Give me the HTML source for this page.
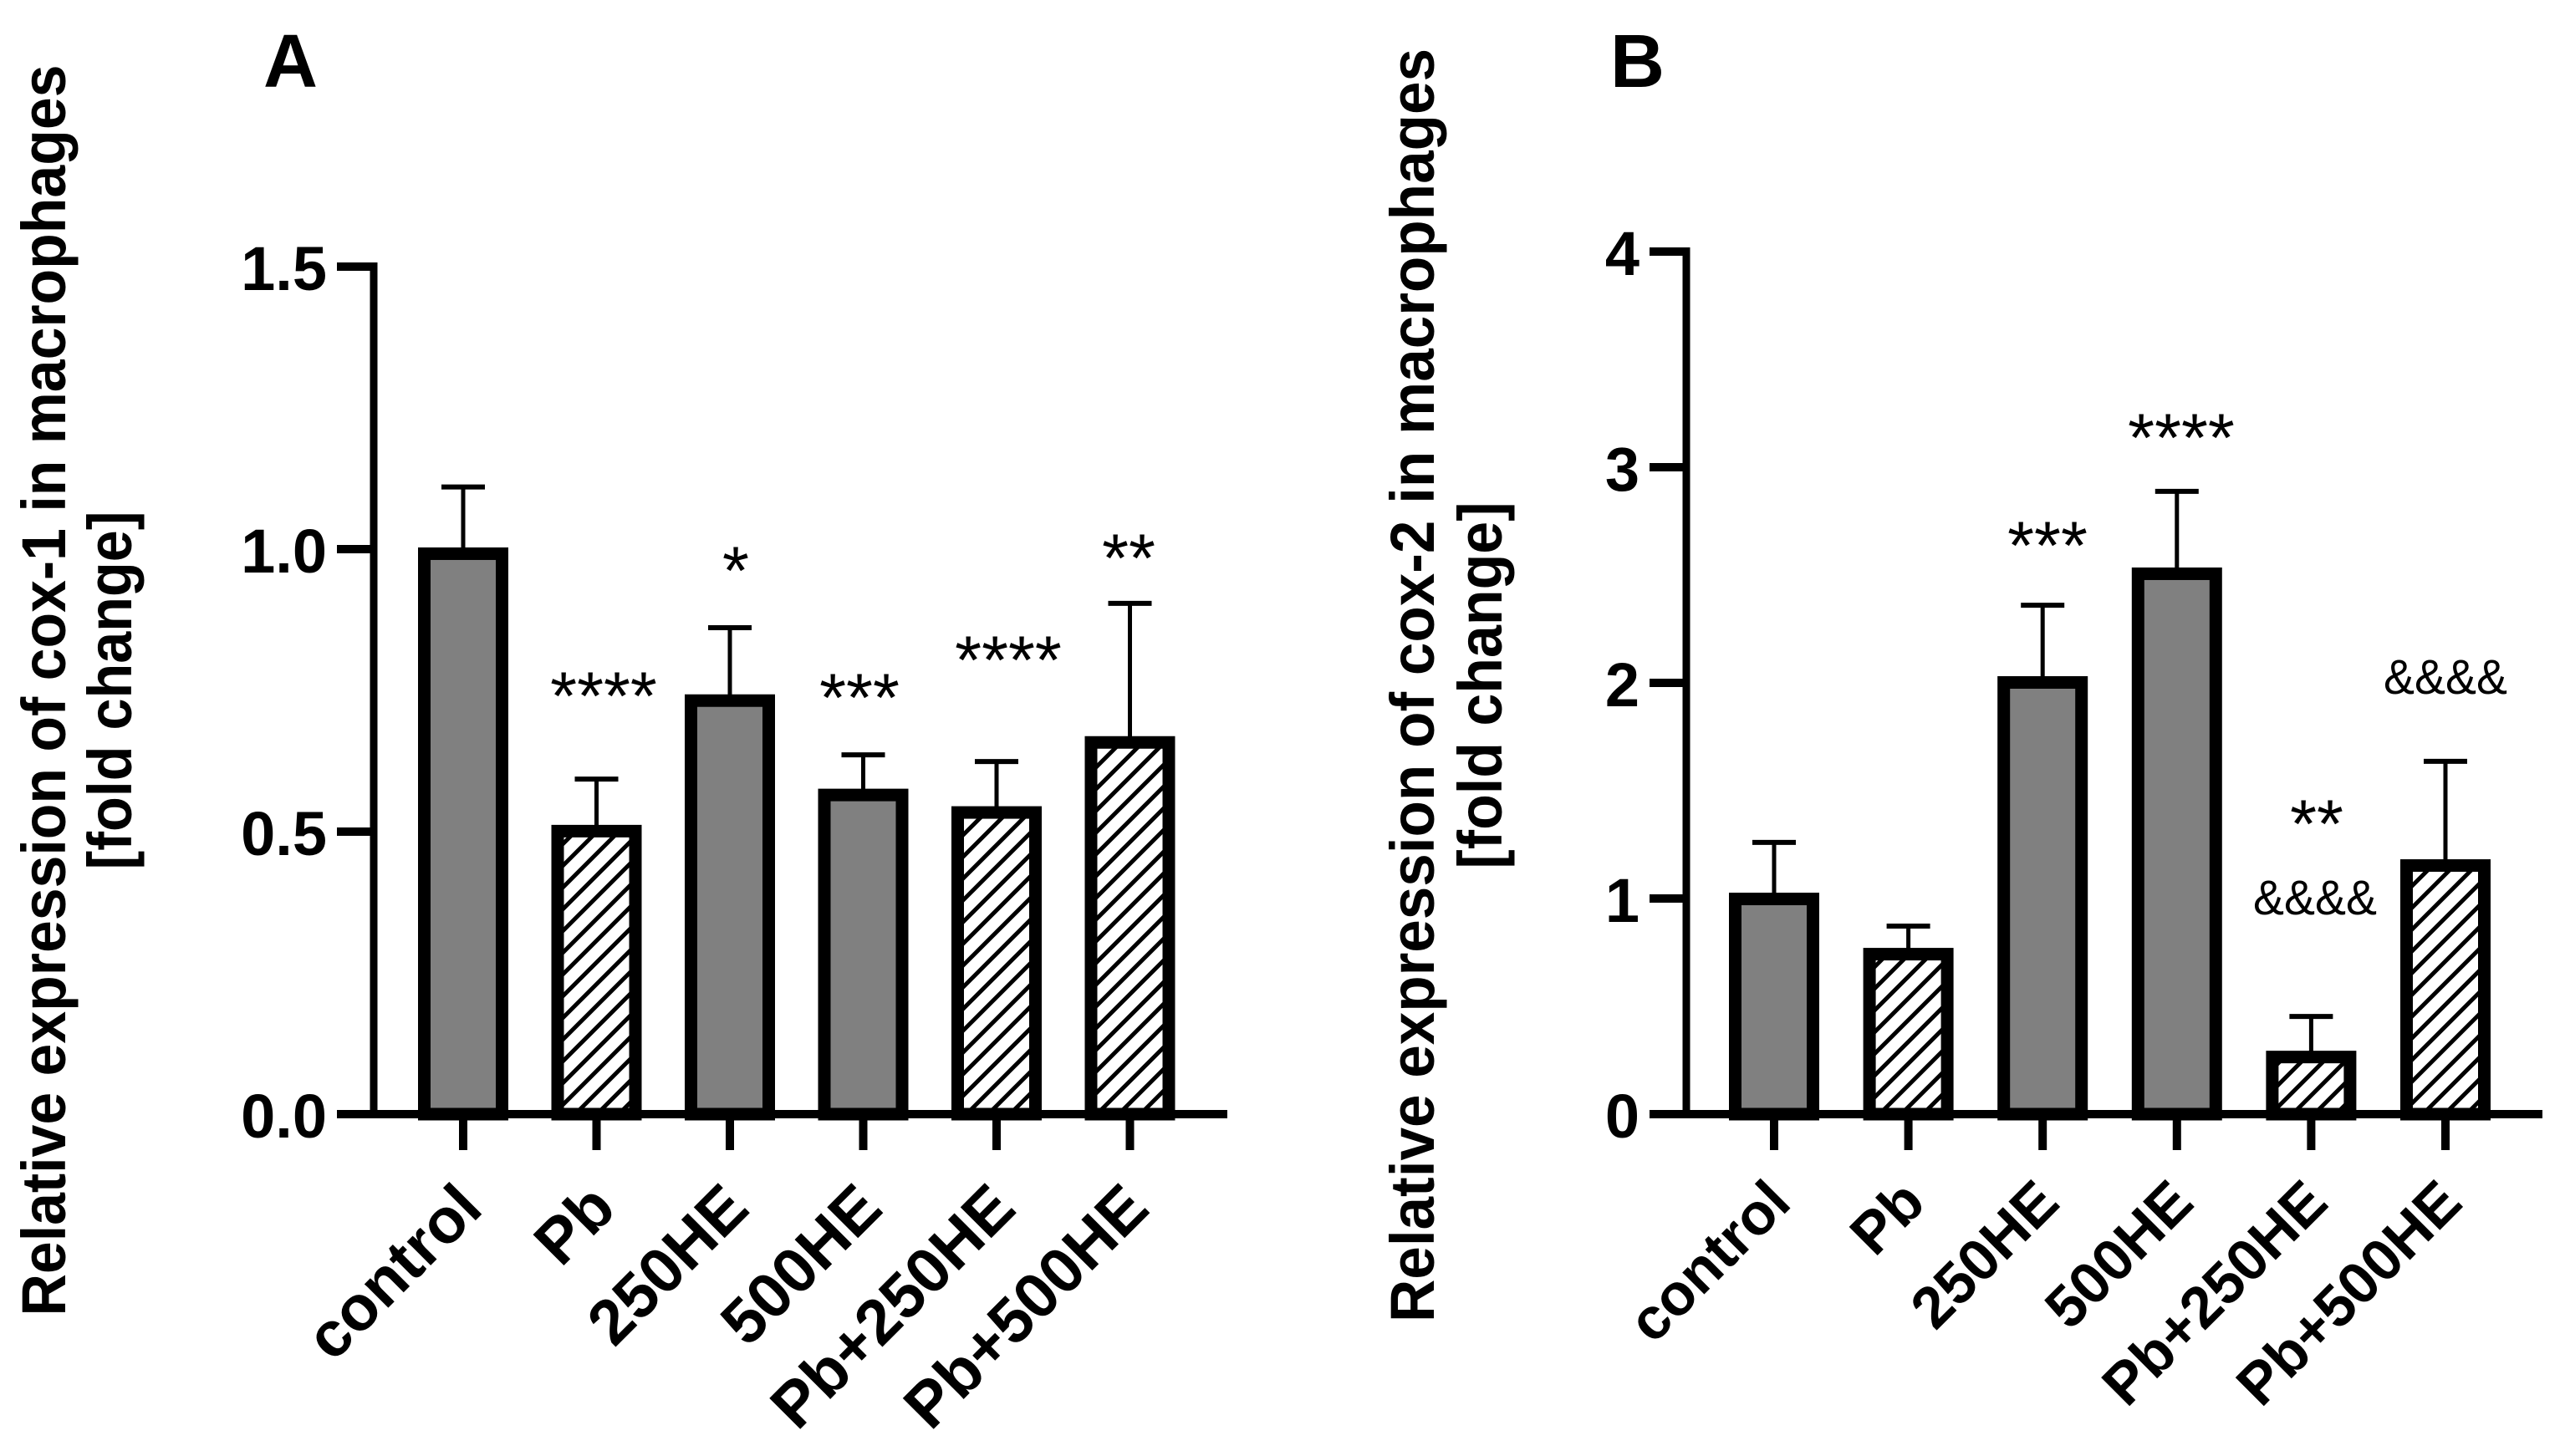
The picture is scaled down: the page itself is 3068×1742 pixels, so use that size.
<!DOCTYPE html>
<html lang="en">
<head>
<meta charset="utf-8">
<title>Relative expression of cox-1 and cox-2 in macrophages</title>
<style>
  html, body { margin: 0; padding: 0; background: #ffffff; }
  svg { display: block; }
  text { font-family: "Liberation Sans", Arial, sans-serif; fill: #000000; }
  .title { font-weight: bold; font-size: 74px; }
  .panel { font-weight: bold; font-size: 90px; }
  .stars { font-size: 82px; text-anchor: middle; }
  .amps { font-size: 58px; text-anchor: middle; }
</style>
</head>
<body>
<svg id="figure" xmlns="http://www.w3.org/2000/svg" width="3068" height="1742" viewBox="0 0 3068 1742">
  <defs>
    <pattern id="hatch" patternUnits="userSpaceOnUse" width="26" height="26" patternTransform="translate(19 0)">
      <rect width="26" height="26" fill="#ffffff"/>
      <path d="M-6.5 6.5 L6.5 -6.5 M0 26 L26 0 M19.5 32.5 L32.5 19.5" stroke="#000000" stroke-width="5" fill="none"/>
    </pattern>
  </defs>
  <rect width="3068" height="1742" fill="#ffffff"/>

  <text class="panel" x="315" y="104">A</text>
  <text class="panel" x="1926" y="104">B</text>

  <text class="title" transform="translate(78 826) rotate(-90)" text-anchor="middle" textLength="1497" lengthAdjust="spacingAndGlyphs">Relative expression of cox-1 in macrophages</text>
  <text class="title" transform="translate(157 826) rotate(-90)" text-anchor="middle" textLength="429" lengthAdjust="spacingAndGlyphs">[fold change]</text>
  <text class="title" transform="translate(1715 820) rotate(-90)" text-anchor="middle" textLength="1524" lengthAdjust="spacingAndGlyphs">Relative expression of cox-2 in macrophages</text>
  <text class="title" transform="translate(1796 820) rotate(-90)" text-anchor="middle" textLength="439" lengthAdjust="spacingAndGlyphs">[fold change]</text>

  <g id="panel-a"></g>
  <g id="panel-b"></g>

  <g>
    <text class="stars" x="722" y="861">****</text>
    <text class="stars" x="880" y="711">*</text>
    <text class="stars" x="1028" y="863">***</text>
    <text class="stars" x="1206" y="818">****</text>
    <text class="stars" x="1350" y="696">**</text>
  </g>
  <g>
    <text class="stars" x="2449" y="681">***</text>
    <text class="stars" x="2609" y="552">****</text>
    <text class="stars" x="2771" y="1014">**</text>
    <text class="amps" x="2769" y="1094" textLength="148" lengthAdjust="spacingAndGlyphs">&amp;&amp;&amp;&amp;</text>
    <text class="amps" x="2925" y="830" textLength="148" lengthAdjust="spacingAndGlyphs">&amp;&amp;&amp;&amp;</text>
  </g>
</svg>

<script>
const categories = ['control', 'Pb', '250HE', '500HE', 'Pb+250HE', 'Pb+500HE'];
const hatched = [false, true, false, false, true, true];
const cox1Values = [1.003, 0.512, 0.743, 0.576, 0.545, 0.669];
const cox1ErrorTops = [1.11, 0.593, 0.861, 0.636, 0.624, 0.904];
const cox1Ticks = ['0.0', '0.5', '1.0', '1.5'];
const cox2Values = [1.027, 0.771, 2.031, 2.535, 0.294, 1.182];
const cox2ErrorTops = [1.26, 0.872, 2.36, 2.888, 0.453, 1.636];
const cox2Ticks = ['0', '1', '2', '3', '4'];

const SVG_NS = 'http://www.w3.org/2000/svg';

function make(tag, attrs, parent) {
  const node = document.createElementNS(SVG_NS, tag);
  for (const key in attrs) node.setAttribute(key, attrs[key]);
  parent.appendChild(node);
  return node;
}

function slug(label) {
  return label.toLowerCase().replace(/\+/g, '-');
}

function drawPanel(root, values, errorTops, ticks, layout) {
  const yOf = v => layout.baseY - v * layout.unit;
  const xOf = i => layout.firstX + i * layout.stepX;

  values.forEach((value, i) => {
    const cx = xOf(i);
    const top = yOf(value);
    const cap = yOf(errorTops[i]);

    const stem = make('line', { x1: cx, x2: cx, y1: top + 2, y2: cap, stroke: '#000', 'stroke-width': 5 }, root);
    
    

    const capLine = make('line', { x1: cx - 26, x2: cx + 26, y1: cap, y2: cap, stroke: '#000', 'stroke-width': 6 }, root);
    
    

    const bar = make('rect', {
      x: cx - 54 + 7.5,
      y: top + 7.5,
      width: 108 - 15,
      height: layout.baseY - top - 7.5,
      fill: hatched[i] ? 'url(#hatch)' : '#808080',
      stroke: '#000',
      'stroke-width': 15
    }, root);
    
    

    const tick = make('rect', { x: cx - 5, y: layout.baseY, width: 10, height: 43, fill: '#000' }, root);
    
    

    const lx = cx + layout.labelDx;
    const label = make('text', {
      x: lx,
      y: layout.labelY,
      'text-anchor': 'end',
      'font-size': layout.labelSize,
      'font-weight': 'bold',
      transform: 'rotate(-45 ' + lx + ' ' + layout.labelY + ')'
    }, root);
    label.textContent = categories[i];
    
    
  });

  const topValue = Number(ticks[ticks.length - 1]);
  const yAxis = make('rect', { x: layout.axisX - 4.5, y: yOf(topValue) - 5, width: 9, height: layout.baseY - yOf(topValue) + 5, fill: '#000' }, root);
  
  

  const xAxis = make('rect', { x: layout.axisX - 44, y: layout.baseY - 5, width: layout.axisEnd - layout.axisX + 44, height: 10, fill: '#000' }, root);
  
  

  ticks.forEach(tickLabel => {
    const y = yOf(Number(tickLabel));
    const tick = make('rect', { x: layout.axisX - 44, y: y - 5, width: 44, height: 10, fill: '#000' }, root);
    
    

    const label = make('text', {
      x: layout.axisX - 56,
      y: y + 28,
      'text-anchor': 'end',
      'font-size': 74,
      'font-weight': 'bold'
    }, root);
    label.textContent = tickLabel;
    
    
  });
}

drawPanel(document.getElementById('panel-a'), cox1Values, cox1ErrorTops, cox1Ticks, {
  baseY: 1333, unit: 676, firstX: 554, stepX: 159.5, axisX: 447, axisEnd: 1468, labelY: 1449, labelDx: 26, labelSize: 76
});
drawPanel(document.getElementById('panel-b'), cox2Values, cox2ErrorTops, cox2Ticks, {
  baseY: 1333, unit: 258, firstX: 2122, stepX: 160.6, axisX: 2017, axisEnd: 3041, labelY: 1442, labelDx: 23, labelSize: 70
});
</script>
</body>
</html>
